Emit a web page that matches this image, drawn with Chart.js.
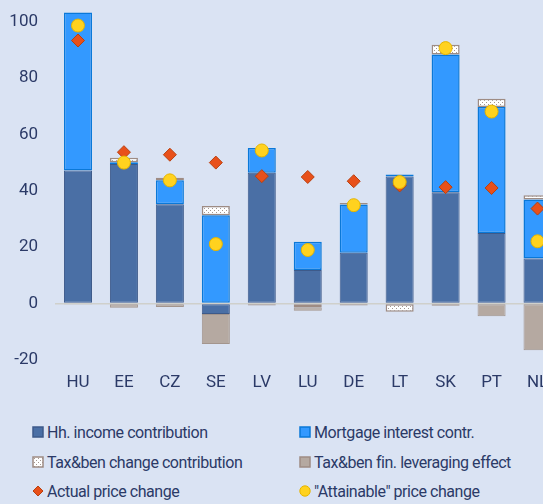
<!DOCTYPE html>
<html>
<head>
<meta charset="utf-8">
<script src="https://cdn.jsdelivr.net/npm/chart.js@4"></script>
<style>
    html, body { margin: 0; padding: 0; background: #dae3f3; overflow: hidden; width: 543px; height: 504px; }
    #wrap { position: absolute; left: 0; top: 0; width: 568px; height: 400px; }
    .item { position: absolute; display: flex; align-items: center; white-space: nowrap; height: 20px;
            font-family: Roboto, sans-serif; font-size: 16px; color: #2b3a67; letter-spacing: -0.45px; }
    .item canvas { margin-right: 3px; }
</style>
</head>
<body>
<div id="wrap"><canvas id="chart"></canvas></div>
<div id="legend"></div>
<script>
// Data (percent)
const categories       = ['HU', 'EE', 'CZ', 'SE', 'LV', 'LU', 'DE', 'LT', 'SK', 'PT', 'NL'];
const incomeContr      = [47.2, 49.5, 35.2, -3.7, 46.4, 11.9, 18.0, 45.1, 39.5, 25.0, 16.0];
const mortgageContr    = [56.0, 0.6, 8.5, 31.3, 8.8, 10.0, 17.1, 0.7, 48.8, 44.7, 20.9];
const taxBenContr      = [null, 1.6, 0.9, 3.3, null, -1.3, 0.6, -2.9, 3.5, 2.9, 1.5];
const leverageEffect   = [-0.3, -1.5, -1.2, -10.6, -0.7, -1.2, -0.7, null, -0.8, -4.5, -16.5];
const actualChange     = [93.3, 53.7, 52.8, 50.0, 45.2, 44.9, 43.4, 41.9, 41.3, 41.0, 33.7];
const attainableChange = [98.6, 50.0, 43.7, 21.1, 54.3, 19.0, 34.9, 43.1, 90.6, 68.1, 22.1];
const yTicks           = [-20, 0, 20, 40, 60, 80, 100];

const textColor = '#2b3a67';

// white/grey dotted fill for the tax&ben bars
function makePattern() {
    const c = document.createElement('canvas');
    c.width = 4; c.height = 4;
    const g = c.getContext('2d');
    g.fillStyle = '#ffffff';
    g.fillRect(0, 0, 4, 4);
    g.fillStyle = '#a39790';
    g.fillRect(0, 0, 1, 1);
    g.fillRect(2, 2, 1, 1);
    return g.createPattern(c, 'repeat');
}
const taxPattern = makePattern();

const series = [
    { label: 'Hh. income contribution', data: incomeContr, bg: '#4a6fa5', border: '#3d5a8a', bw: 1 },
    { label: 'Mortgage interest contr.', data: mortgageContr, bg: '#3399ff', border: '#0a78d8', bw: 1.5 },
    { label: 'Tax&ben change contribution', data: taxBenContr, bg: taxPattern, border: '#9e8c84', bw: 1.5 },
    { label: 'Tax&ben fin. leveraging effect', data: leverageEffect, bg: '#b5a9a1', border: '#a3958d', bw: 1 }
];

const datasets = series.map(s => ({
    type: 'bar',
    label: s.label,
    data: s.data,
    backgroundColor: s.bg,
    borderColor: s.border,
    borderWidth: s.bw,
    borderSkipped: false,
    stack: 'bars',
    order: 3,
    categoryPercentage: 1,
    barPercentage: 0.61
}));

datasets.push({
    type: 'line',
    label: 'Actual price change',
    data: actualChange,
    showLine: false,
    pointStyle: 'rectRot',
    pointRadius: 6.5,
    pointBackgroundColor: '#e8501a',
    pointBorderColor: '#b8400f',
    pointBorderWidth: 1,
    stack: 'actual',
    order: 1
});
datasets.push({
    type: 'line',
    label: '"Attainable" price change',
    data: attainableChange,
    showLine: false,
    pointStyle: 'circle',
    pointRadius: 6.5,
    pointBackgroundColor: '#ffd21f',
    pointBorderColor: '#e5b400',
    pointBorderWidth: 1,
    stack: 'attain',
    order: 0
});

new Chart(document.getElementById('chart'), {
    type: 'bar',
    data: { labels: categories, datasets: datasets },
    options: {
        responsive: true,
        maintainAspectRatio: false,
        animation: false,
        layout: { padding: { top: 7, right: 1, left: 0, bottom: 0 } },
        plugins: { legend: { display: false }, tooltip: { enabled: false } },
        scales: {
            x: {
                stacked: true,
                grid: { display: false, drawTicks: false },
                border: { display: false },
                ticks: { color: textColor, font: { family: 'Roboto', size: 17 }, padding: 13, maxRotation: 0 },
                afterFit: scale => {
                    scale.height = 40;
                    scale.paddingLeft = 0;
                    scale.paddingRight = 0;
                }
            },
            y: {
                stacked: true,
                min: -20,
                max: 105,
                grid: {
                    drawTicks: false,
                    lineWidth: 1.5,
                    color: ctx => (ctx.tick && ctx.tick.value === 0) ? '#cfd0cb' : 'rgba(0,0,0,0)'
                },
                border: { display: false },
                ticks: { color: textColor, font: { family: 'Roboto', size: 17 }, padding: 17 },
                afterBuildTicks: scale => { scale.ticks = yTicks.map(v => ({ value: v })); },
                afterFit: scale => {
                    scale.width = 55;
                    scale.paddingTop = 0;
                    scale.paddingBottom = 0;
                }
            }
        }
    }
});

// Legend in two columns under the chart
const legendItems = [
    { text: 'Hh. income contribution', x: 32, y: 432, kind: 'box', bg: '#4a6fa5', border: '#3d5a8a' },
    { text: 'Mortgage interest contr.', x: 299, y: 432, kind: 'box', bg: '#3399ff', border: '#0a78d8' },
    { text: 'Tax&ben change contribution', x: 32, y: 462, kind: 'box', bg: taxPattern, border: '#9e8c84' },
    { text: 'Tax&ben fin. leveraging effect', x: 299, y: 462, kind: 'box', bg: '#b5a9a1', border: '#9e8c84' },
    { text: 'Actual price change', x: 32, y: 491, kind: 'diamond', bg: '#e8501a', border: '#b8400f' },
    { text: '"Attainable" price change', x: 299, y: 491, kind: 'circle', bg: '#ffd21f', border: '#e5b400' }
];

const legend = document.getElementById('legend');
legendItems.forEach(it => {
    const div = document.createElement('div');
    div.className = 'item';
    div.style.left = it.x + 'px';
    div.style.top = (it.y - 10) + 'px';
    const c = document.createElement('canvas');
    c.width = 12; c.height = 12;
    const g = c.getContext('2d');
    g.fillStyle = it.bg;
    g.strokeStyle = it.border;
    g.lineWidth = 1.5;
    if (it.kind === 'box') {
        g.fillRect(1, 1, 10, 10);
        g.strokeRect(1, 1, 10, 10);
    } else if (it.kind === 'diamond') {
        g.beginPath();
        g.moveTo(6, 1); g.lineTo(11, 6); g.lineTo(6, 11); g.lineTo(1, 6);
        g.closePath(); g.fill(); g.lineWidth = 1; g.stroke();
    } else {
        g.beginPath();
        g.arc(6, 6, 5.2, 0, Math.PI * 2);
        g.fill(); g.lineWidth = 1; g.stroke();
    }
    div.appendChild(c);
    const span = document.createElement('span');
    span.textContent = it.text;
    div.appendChild(span);
    legend.appendChild(div);
});
</script>
</body>
</html>
